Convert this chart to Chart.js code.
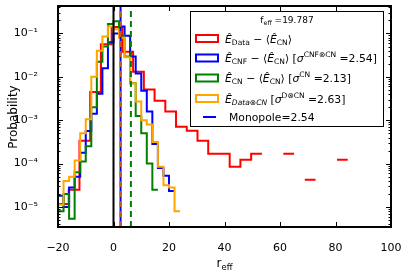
<!DOCTYPE html>
<html><head><meta charset="utf-8">
<script src="https://cdn.jsdelivr.net/npm/chart.js@4/dist/chart.umd.min.js"></script>
<style>html,body{margin:0;padding:0;background:#fff}#wrap{width:408px;height:272px;position:relative}</style>
</head><body><div id="wrap"><canvas id="c" width="408" height="272"></canvas></div>
<script>
// ---- data ----
const xTicks = [-20, 0, 20, 40, 60, 80, 100];
const yTicks = [1e-5, 1e-4, 1e-3, 1e-2, 1e-1];
const yTickLabels = ['10⁻⁵', '10⁻⁴', '10⁻³', '10⁻²', '10⁻¹'];
const xMin = -20, xMax = 100;
const yMin = 3.46e-6, yMax = 0.43;

// E_Data - <E_CN>  (red), log10 probability per bin, null = empty bin
const redBinStart = -20, redBinWidth = 3.8667;
const redLog10 = [-4.93, -4.6, -3.47, -2.35, -1.25, -0.85, -1.42, -1.88, -2.29, -2.55, -2.80, -3.15, -3.24, -3.47,
  -3.77, -3.77, -4.07, -3.91, -3.77, null, null, -3.77, null, -4.37, null, null, -3.91];
// other histograms share bins of width 2 from -20
const binStart = -20, binWidth = 2;
const cnfLog10 = [-4.74, -5.0, -4.55, -4.3, -3.75, -3.25, -2.85, -2.39, -1.8, -1.2, -1.0, -0.84, -1.05, -1.53,
  -1.92, -2.32, -2.8, -3.55, -4.1, -4.28, -4.63];
const cnLog10 = [-5.1, -4.7, -5.27, -4.2, -3.95, -3.6, -2.7, -1.65, -1.3, -0.78, -0.72, -1.05, -1.53, -2.15,
  -2.9, -3.3, -4.0, -4.6];
const dataCnLog10 = [-4.95, -4.4, -4.3, -3.93, -3.3, -2.98, -2.0, -1.4, -1.07, -0.84, -0.9, -1.1, -1.55, -2.15,
  -2.57, -3.0, -3.1, -3.5, -4.07, -4.5, -4.55, -5.1];
const zeroLineX = 0;
const monopoleX = 2.54;
const cnMeanX = 6.27;
const fEff = '19.787';

function steps(start, width, logs) {
  const pts = [];
  logs.forEach((v, i) => {
    const l = start + i * width, r = l + width;
    if (v === null) { pts.push({x: l, y: null}); return; }
    pts.push({x: l, y: Math.pow(10, v)}, {x: r, y: Math.pow(10, v)});
  });
  return pts;
}
function vline(x) { return [{x: x, y: yMin}, {x: x, y: yMax}]; }

const FONT = '"DejaVu Sans", "Liberation Sans", sans-serif';

function rich(ctx, x, y, segs, size, measureOnly) {
  for (const s of segs) {
    let fs = size, dy = 0;
    if (s.sub) { fs = size * 0.7; dy = size * 0.22; }
    if (s.sup) { fs = size * 0.7; dy = -size * 0.42; }
    ctx.font = (s.it ? 'italic ' : '') + fs + 'px ' + FONT;
    if (!measureOnly) ctx.fillText(s.t, x, y + dy);
    x += ctx.measureText(s.t).width;
  }
  return x;
}

const legendRows = [
  {color: '#ff0000', type: 'patch', segs: [{t: 'Ê', it: 1}, {t: 'Data', sub: 1}, {t: ' − ⟨'}, {t: 'Ê', it: 1}, {t: 'CN', sub: 1}, {t: '⟩'}]},
  {color: '#0000ff', type: 'patch', segs: [{t: 'Ê', it: 1}, {t: 'CNF', sub: 1}, {t: ' − ⟨'}, {t: 'Ê', it: 1}, {t: 'CN', sub: 1}, {t: '⟩ ['}, {t: 'σ', it: 1}, {t: 'CNF⊗CN', sup: 1}, {t: ' =2.54]'}]},
  {color: '#008000', type: 'patch', segs: [{t: 'Ê', it: 1}, {t: 'CN', sub: 1}, {t: ' − ⟨'}, {t: 'Ê', it: 1}, {t: 'CN', sub: 1}, {t: '⟩ ['}, {t: 'σ', it: 1}, {t: 'CN', sup: 1}, {t: ' =2.13]'}]},
  {color: '#ffa500', type: 'patch', segs: [{t: 'Ê', it: 1}, {t: 'Data⊗CN', sub: 1, it: 1}, {t: ' ['}, {t: 'σ', it: 1}, {t: 'D⊗CN', sup: 1}, {t: ' =2.63]'}]},
  {color: '#0000ff', type: 'line', segs: [{t: 'Monopole=2.54'}]}
];

const decor = {
  id: 'decor',
  afterDraw(chart) {
    const ctx = chart.ctx, a = chart.chartArea;
    const xs = chart.scales.x, ys = chart.scales.y;
    ctx.save();
    ctx.strokeStyle = '#000';
    // ticks
    ctx.lineWidth = 1;
    ctx.beginPath();
    xTicks.forEach(v => {
      const px = Math.round(xs.getPixelForValue(v)) + 0.5;
      ctx.moveTo(px, a.bottom); ctx.lineTo(px, a.bottom - 5);
      ctx.moveTo(px, a.top); ctx.lineTo(px, a.top + 5);
    });
    for (let e = -6; e <= 0; e++) {
      for (let m = 1; m <= 9; m++) {
        const v = m * Math.pow(10, e);
        if (v < yMin || v > yMax) continue;
        const py = Math.round(ys.getPixelForValue(v)) + 0.5;
        const len = m === 1 ? 5 : 2.5;
        ctx.moveTo(a.left, py); ctx.lineTo(a.left + len, py);
        ctx.moveTo(a.right, py); ctx.lineTo(a.right - len, py);
      }
    }
    ctx.stroke();
    // frame
    ctx.lineWidth = 2;
    ctx.strokeRect(a.left, a.top, a.right - a.left, a.bottom - a.top);

    // axis titles
    ctx.fillStyle = '#000';
    ctx.textBaseline = 'alphabetic';
    ctx.textAlign = 'left';
    const titleSegs = [{t: 'r'}, {t: 'eff', sub: 1}];
    const tw = rich(ctx, 0, 0, titleSegs, 12, true);
    rich(ctx, (a.left + a.right) / 2 - tw / 2, 267, titleSegs, 12);
    ctx.save();
    ctx.translate(14, 117);
    ctx.rotate(-Math.PI / 2);
    ctx.textAlign = 'center';
    ctx.textBaseline = 'middle';
    ctx.font = '12px ' + FONT;
    ctx.fillText('Probability', 0, 0);
    ctx.restore();

    // legend
    const bx = 190.5, by = 11.5, bw = 193, bh = 115;
    ctx.fillStyle = '#fff';
    ctx.fillRect(bx, by, bw, bh);
    ctx.lineWidth = 1;
    ctx.strokeStyle = '#000';
    ctx.strokeRect(bx, by, bw, bh);
    ctx.fillStyle = '#000';
    ctx.textAlign = 'left';
    ctx.textBaseline = 'alphabetic';
    const tSegs = [{t: 'f'}, {t: 'eff', sub: 1}, {t: ' =' + fEff}];
    const w = rich(ctx, 0, 0, tSegs, 9, true);
    rich(ctx, bx + bw / 2 - w / 2, 23, tSegs, 9);
    const rowsY = [38.5, 58, 78, 98.5, 117];
    legendRows.forEach((r, i) => {
      const cy = rowsY[i];
      ctx.strokeStyle = r.color;
      ctx.lineWidth = 2;
      if (r.type === 'patch') {
        ctx.strokeRect(196, cy - 3.5, 22, 7);
      } else {
        ctx.beginPath(); ctx.moveTo(203, cy); ctx.lineTo(216, cy); ctx.stroke();
      }
      ctx.fillStyle = '#000';
      rich(ctx, r.type === 'patch' ? 225 : 229, cy + 4, r.segs, 10.8);
    });
    ctx.restore();
  }
};

const common = {pointRadius: 0, borderWidth: 2, tension: 0, fill: false, spanGaps: false};
new Chart(document.getElementById('c'), {
  type: 'line',
  data: {
    datasets: [
      Object.assign({data: vline(cnMeanX), borderColor: '#008000', borderDash: [6, 4], order: -3}, common),
      Object.assign({data: vline(monopoleX), borderColor: '#b85a30', borderDash: [6, 4], order: -2}, common),
      Object.assign({data: vline(monopoleX), borderColor: '#0000ff', order: -1}, common),
      Object.assign({data: vline(zeroLineX), borderColor: '#000000', order: 0}, common),
      Object.assign({data: steps(binStart, binWidth, dataCnLog10), borderColor: '#ffa500', order: 1}, common),
      Object.assign({data: steps(binStart, binWidth, cnLog10), borderColor: '#008000', order: 2}, common),
      Object.assign({data: steps(binStart, binWidth, cnfLog10), borderColor: '#0000ff', order: 3}, common),
      Object.assign({data: steps(redBinStart, redBinWidth, redLog10), borderColor: '#ff0000', order: 4}, common)
    ]
  },
  options: {
    responsive: false,
    animation: false,
    devicePixelRatio: 1,
    layout: {padding: {top: 6, right: 17, left: 0, bottom: 0}},
    plugins: {legend: {display: false}, tooltip: {enabled: false}},
    scales: {
      x: {
        type: 'linear', min: xMin, max: xMax,
        grid: {display: false}, border: {display: false},
        afterBuildTicks: s => { s.ticks = xTicks.map(v => ({value: v})); },
        afterFit: s => { s.height = 45; s.paddingLeft = 0; s.paddingRight = 0; s.paddingTop = 0; s.paddingBottom = 0; },
        ticks: {color: '#000', font: {size: 11, family: FONT}, padding: 7, maxRotation: 0,
          callback: v => (v < 0 ? '−' + Math.abs(v) : String(v))}
      },
      y: {
        type: 'logarithmic', min: yMin, max: yMax,
        grid: {display: false}, border: {display: false},
        afterBuildTicks: s => { s.ticks = yTicks.map(v => ({value: v})); },
        afterFit: s => { s.width = 58; s.paddingTop = 0; s.paddingBottom = 0; s.paddingLeft = 0; s.paddingRight = 0; },
        ticks: {color: '#000', font: {size: 11, family: FONT}, padding: 12,
          callback: v => { const i = yTicks.indexOf(v); return i >= 0 ? yTickLabels[i] : ''; }}
      }
    }
  },
  plugins: [decor]
});
</script>
</body></html>
